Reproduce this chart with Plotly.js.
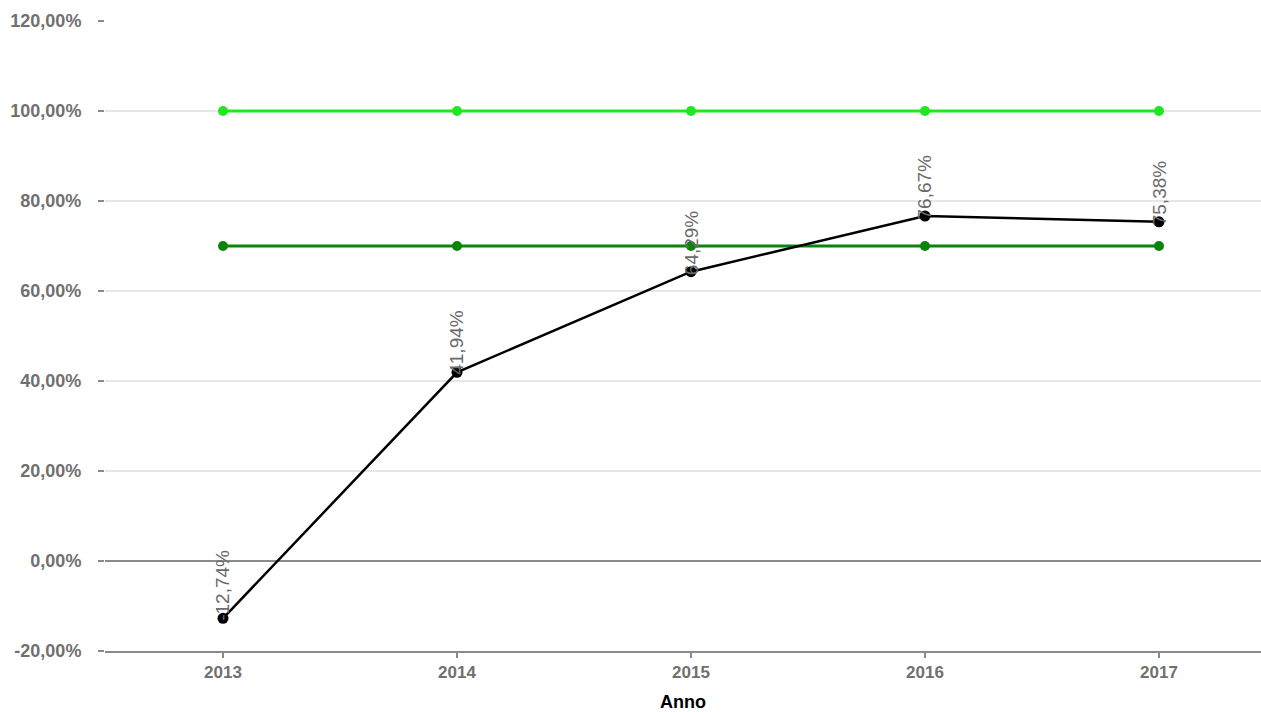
<!DOCTYPE html>
<html>
<head>
<meta charset="utf-8">
<script src="https://cdn.plot.ly/plotly-3.0.1.min.js"></script>
<style>html,body{margin:0;padding:0;background:#fff;}#chart{width:1261px;height:712px;}</style>
</head>
<body>
<div id="chart"></div>
<script>
const years = [2013, 2014, 2015, 2016, 2017];
const valori = [-12.74, 41.94, 64.29, 76.67, 75.38];
const soglia100 = [100, 100, 100, 100, 100];
const soglia70 = [70, 70, 70, 70, 70];
const etichette = ["-12,74%", "41,94%", "64,29%", "76,67%", "75,38%"];
const yTicks = [-20, 0, 20, 40, 60, 80, 100, 120];
const yTickLabels = ["-20,00%", "0,00%", "20,00%", "40,00%", "60,00%", "80,00%", "100,00%", "120,00%"];

const traces = [
  {x: years, y: soglia100, mode: 'lines+markers', line: {color: '#22e622', width: 3}, marker: {color: '#22e622', size: 10}, hoverinfo: 'none'},
  {x: years, y: soglia70, mode: 'lines+markers', line: {color: '#0b840b', width: 3}, marker: {color: '#0b840b', size: 10}, hoverinfo: 'none'},
  {x: years, y: valori, mode: 'lines+markers', line: {color: '#000000', width: 2.5}, marker: {color: '#000000', size: 11}, hoverinfo: 'none'}
];

const annotations = years.map((yr, i) => ({
  x: yr, y: valori[i], xref: 'x', yref: 'y', text: etichette[i], showarrow: false,
  textangle: -90, xanchor: 'center', yanchor: 'bottom', yshift: -5,
  font: {family: 'Liberation Sans, Arial, sans-serif', size: 19, color: '#6a6a6a'}
}));

const layout = {
  width: 1261, height: 712,
  margin: {l: 105, r: 0, t: 21, b: 61},
  paper_bgcolor: '#fff', plot_bgcolor: '#fff',
  showlegend: false,
  xaxis: {
    range: [2012.4957, 2017.436],
    tickvals: years, ticktext: years.map(String),
    showgrid: false, zeroline: false,
    showline: true, linecolor: '#8a8a8a', linewidth: 2,
    ticks: 'outside', ticklen: 5, tickcolor: '#8a8a8a', tickwidth: 1.5,
    tickfont: {family: 'Liberation Sans, Arial, sans-serif', size: 17, color: '#707070', weight: 'bold'},
    title: {text: '<b>Anno</b>', font: {family: 'Liberation Sans, Arial, sans-serif', size: 18, color: '#000'}, standoff: 16}
  },
  yaxis: {
    range: [-20, 120],
    tickvals: yTicks, ticktext: yTickLabels,
    showgrid: true, gridcolor: '#e6e6e6', gridwidth: 1.5,
    zeroline: true, zerolinecolor: '#8a8a8a', zerolinewidth: 2,
    showline: false,
    ticks: 'outside', ticklen: 6, tickcolor: '#8a8a8a', tickwidth: 1.5,
    tickfont: {family: 'Liberation Sans, Arial, sans-serif', size: 18, color: '#707070', weight: 'bold'},
    ticklabelstandoff: 13
  },
  annotations: annotations
};

Plotly.newPlot('chart', traces, layout, {displayModeBar: false, staticPlot: true});
</script>
</body>
</html>
